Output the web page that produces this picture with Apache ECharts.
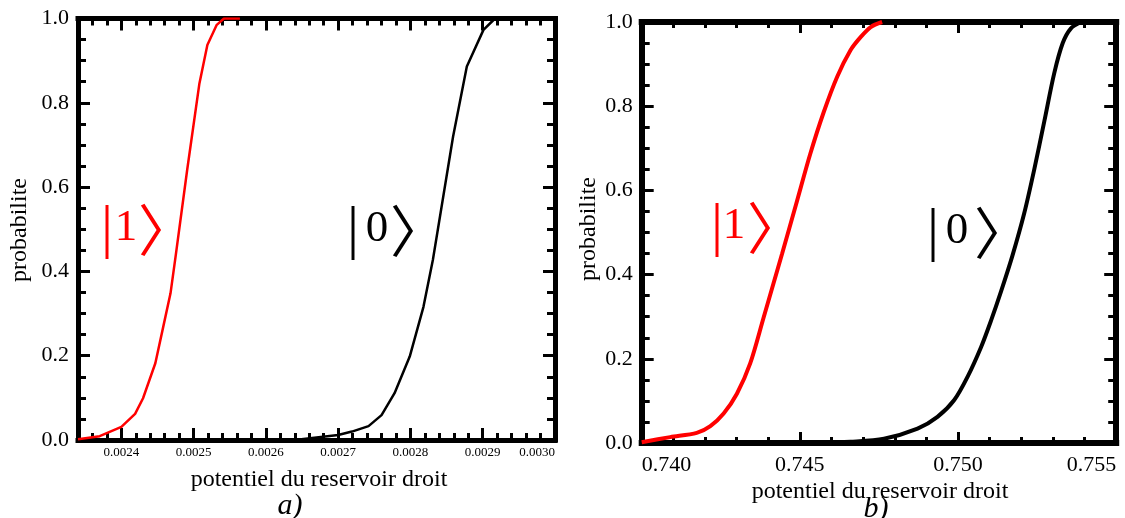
<!DOCTYPE html>
<html><head><meta charset="utf-8">
<script src="https://cdn.jsdelivr.net/npm/echarts@6/dist/echarts.min.js"></script>
<style>html,body{margin:0;padding:0;background:#fff}#c{width:1125px;height:518px}</style>
</head><body><div id="c"></div>
<script>
// ---- data ----
const leftRedX   = [0.002340, 0.002370, 0.002400, 0.002419, 0.002430, 0.002447, 0.002458, 0.002468, 0.002475, 0.002491, 0.002508, 0.002519, 0.002532, 0.002542, 0.002564];
const leftRedY   = [0.002, 0.009, 0.031, 0.062, 0.099, 0.182, 0.269, 0.348, 0.435, 0.640, 0.846, 0.937, 0.985, 1.0, 1.0];
const leftBlackX = [0.002640, 0.002700, 0.002719, 0.002742, 0.002760, 0.002778, 0.002799, 0.002818, 0.002831, 0.002859, 0.002878, 0.002901, 0.002917];
const leftBlackY = [0.000, 0.012, 0.020, 0.033, 0.059, 0.111, 0.198, 0.316, 0.427, 0.720, 0.886, 0.973, 1.0];
const rightRedX   = [0.74000, 0.74090, 0.74174, 0.74217, 0.74259, 0.74301, 0.74343, 0.74385, 0.74417, 0.74444, 0.74491, 0.74533, 0.74575, 0.74618, 0.74660, 0.74692, 0.74724, 0.74760];
const rightRedY   = [0.002, 0.014, 0.024, 0.040, 0.070, 0.117, 0.189, 0.297, 0.380, 0.450, 0.575, 0.687, 0.785, 0.870, 0.933, 0.964, 0.988, 1.0];
const rightBlackX = [0.74550, 0.74660, 0.74766, 0.74872, 0.74935, 0.74988, 0.75030, 0.75073, 0.75104, 0.75136, 0.75172, 0.75209, 0.75241, 0.75273, 0.75304, 0.75331, 0.75357, 0.75389];
const rightBlackY = [0.000, 0.003, 0.010, 0.034, 0.062, 0.102, 0.157, 0.228, 0.290, 0.360, 0.445, 0.545, 0.650, 0.765, 0.878, 0.950, 0.985, 1.0];

const leftXRange  = [0.00234, 0.0030];
const rightXRange = [0.740, 0.755];
const yRange = [0, 1];

const yTitle = 'probabilite';
const xTitle = 'potentiel du reservoir droit';
const panelLabels = ['a)', 'b)'];
const ketLabels = ['1', '0'];

// ---- helpers ----
const zip = (xs, ys) => xs.map((x, i) => [x, ys[i]]);
const SERIF = '"Liberation Serif", "Times New Roman", serif';
const BLK = '#000';
const RED = '#ff0000';
const line = (w, show = true) => ({ show, onZero: false, lineStyle: { color: BLK, width: w, cap: 'square' } });
const tick = (len, show = true) => ({ show, inside: true, length: len, lineStyle: { color: BLK, width: 3 } });
const minor = (n, len) => ({ show: true, splitNumber: n, length: len, lineStyle: { color: BLK, width: 3 } });
const noSplit = { show: false };

const xAxes = [
  { gridIndex: 0, type: 'value', position: 'bottom', min: leftXRange[0], max: leftXRange[1],
    axisLine: line(5), axisTick: tick(12), splitLine: noSplit,
    axisLabel: { show: true, margin: 6, fontFamily: SERIF, fontSize: 13, color: BLK, showMinLabel: false,
      alignMaxLabel: 'right', formatter: v => v.toFixed(4) } },
  { gridIndex: 0, type: 'value', position: 'bottom', min: leftXRange[0], max: leftXRange[1], interval: 0.00002,
    axisLine: line(5, false), axisTick: tick(7), splitLine: noSplit, axisLabel: { show: false } },
  { gridIndex: 0, type: 'value', position: 'top', min: leftXRange[0], max: leftXRange[1],
    axisLine: line(5), axisTick: tick(12), splitLine: noSplit, axisLabel: { show: false } },
  { gridIndex: 0, type: 'value', position: 'top', min: leftXRange[0], max: leftXRange[1], interval: 0.00002,
    axisLine: line(5, false), axisTick: tick(7), splitLine: noSplit, axisLabel: { show: false } },
  { gridIndex: 1, type: 'value', position: 'bottom', min: rightXRange[0], max: rightXRange[1], interval: 0.005,
    axisLine: line(6), axisTick: tick(11), minorTick: minor(5, 6), splitLine: noSplit, minorSplitLine: noSplit,
    axisLabel: { show: true, margin: 11, fontFamily: SERIF, fontSize: 22, color: BLK,
      alignMinLabel: 'left', alignMaxLabel: 'right', formatter: v => v.toFixed(3) } },
  { gridIndex: 1, type: 'value', position: 'top', min: rightXRange[0], max: rightXRange[1], interval: 0.005,
    axisLine: line(6), axisTick: tick(11), minorTick: minor(5, 6), splitLine: noSplit, minorSplitLine: noSplit,
    axisLabel: { show: false } }
];

const yLeft = (g, w) => ({ gridIndex: g, type: 'value', position: 'left', min: yRange[0], max: yRange[1], interval: 0.2,
  axisLine: line(w), axisTick: tick(12), minorTick: minor(4, 8), splitLine: noSplit, minorSplitLine: noSplit,
  axisLabel: { show: true, margin: 9, fontFamily: SERIF, fontSize: 22, color: BLK, formatter: v => v.toFixed(1) } });
const yRight = (g, w) => ({ gridIndex: g, type: 'value', position: 'right', min: yRange[0], max: yRange[1], interval: 0.2,
  axisLine: line(w), axisTick: tick(12), minorTick: minor(4, 8), splitLine: noSplit, minorSplitLine: noSplit,
  axisLabel: { show: false } });

const txt = (text, x, y, size, color, extra = {}) => ({
  type: 'text', x, y, z: 100, rotation: extra.rotation || 0,
  style: Object.assign({ text, fill: color, fontFamily: SERIF, fontSize: size, align: 'center', verticalAlign: 'middle' }, extra.style || {})
});
const BR = '"Noto Sans CJK SC", "Noto Sans CJK JP", sans-serif';
const ket = (digit, color, barX, digitX, brX, cy) => [
  txt('|', barX, cy, 60, color),
  txt(digit, digitX, cy - 2, 45, color),
  txt('\u3009', brX + 15, cy, 56, color, { style: { fontFamily: BR } })
];

const option = {
  animation: false,
  backgroundColor: '#fff',
  grid: [
    { left: 78, top: 18.5, width: 477, height: 421.5, containLabel: false },
    { left: 641.7, top: 22, width: 474.5, height: 421, containLabel: false }
  ],
  xAxis: xAxes,
  yAxis: [yLeft(0, 5), yRight(0, 5), yLeft(1, 6), yRight(1, 6)],
  series: [
    { type: 'line', xAxisIndex: 0, yAxisIndex: 0, data: zip(leftRedX, leftRedY), showSymbol: false,
      lineStyle: { color: RED, width: 2.5 }, z: 5 },
    { type: 'line', xAxisIndex: 0, yAxisIndex: 0, data: zip(leftBlackX, leftBlackY), showSymbol: false,
      lineStyle: { color: BLK, width: 2.5 }, z: 5 },
    { type: 'line', xAxisIndex: 4, yAxisIndex: 2, data: zip(rightRedX, rightRedY), showSymbol: false,
      smooth: 0.3, lineStyle: { color: RED, width: 4 }, z: 5 },
    { type: 'line', xAxisIndex: 4, yAxisIndex: 2, data: zip(rightBlackX, rightBlackY), showSymbol: false,
      smooth: 0.3, lineStyle: { color: BLK, width: 4 }, z: 5 }
  ],
  graphic: [
    txt(yTitle, 20, 230, 24, BLK, { rotation: Math.PI / 2 }),
    txt(yTitle, 589, 229, 24, BLK, { rotation: Math.PI / 2 }),
    txt(xTitle, 319, 480, 24, BLK),
    txt(xTitle, 880, 492, 24, BLK),
    txt(panelLabels[0], 290, 506, 30, BLK, { style: { fontStyle: 'italic' } }),
    txt(panelLabels[1], 876, 509, 30, BLK, { style: { fontStyle: 'italic' } }),
    ...ket(ketLabels[0], RED, 107, 126, 151, 230),
    ...ket(ketLabels[1], BLK, 353, 377, 403, 231),
    ...ket(ketLabels[0], RED, 717, 734, 760, 228),
    ...ket(ketLabels[1], BLK, 933, 957, 987, 233)
  ]
};

const chart = echarts.init(document.getElementById('c'), null, { renderer: 'canvas' });
chart.setOption(option);
</script>
</body></html>
